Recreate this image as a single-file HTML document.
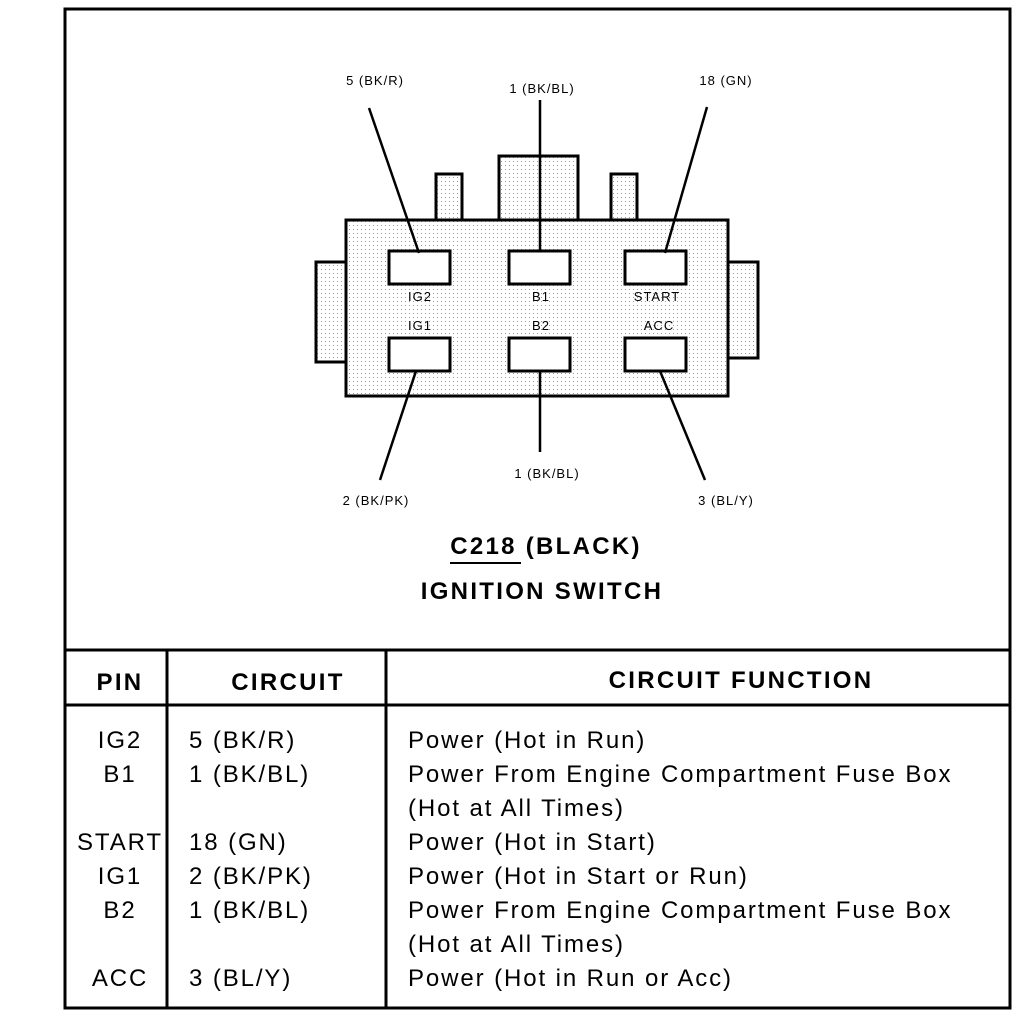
<!DOCTYPE html>
<html><head><style>body{margin:0;background:#fff}svg{display:block}text{font-family:"Liberation Sans",Arial,sans-serif;fill:#000}</style></head>
<body>
<svg width="1024" height="1016" viewBox="0 0 1024 1016">
<defs><pattern id="d" width="4" height="4" patternUnits="userSpaceOnUse"><rect width="4" height="4" fill="#fff"/><rect x="1" y="1" width="1" height="1" fill="#999"/></pattern></defs>
<g stroke="#000" stroke-width="3" fill="none">
<rect x="65" y="9" width="945" height="999"/>
<line x1="65" y1="650" x2="1010" y2="650"/>
<line x1="65" y1="705" x2="1010" y2="705"/>
<line x1="167" y1="650" x2="167" y2="1008"/>
<line x1="386" y1="650" x2="386" y2="1008"/>
</g>
<g stroke="#000" stroke-width="3" fill="url(#d)">
<rect x="316" y="262" width="30" height="100"/>
<rect x="728" y="262" width="30" height="96"/>
<rect x="436" y="174" width="26" height="46"/>
<rect x="499" y="156" width="79" height="64"/>
<rect x="611" y="174" width="26" height="46"/>
<rect x="346" y="220" width="382" height="176"/>
</g>
<g stroke="#000" stroke-width="3" fill="#fff">
<rect x="389" y="251" width="61" height="33"/>
<rect x="509" y="251" width="61" height="33"/>
<rect x="625" y="251" width="61" height="33"/>
<rect x="389" y="338" width="61" height="33"/>
<rect x="509" y="338" width="61" height="33"/>
<rect x="625" y="338" width="61" height="33"/>
</g>
<g stroke="#000" stroke-width="2.5">
<line x1="369" y1="108" x2="419" y2="253"/>
<line x1="540" y1="100" x2="540" y2="251"/>
<line x1="707" y1="107" x2="665" y2="253"/>
<line x1="416" y1="371" x2="380" y2="480"/>
<line x1="540" y1="371" x2="540" y2="452"/>
<line x1="660" y1="371" x2="705" y2="480"/>
</g>
<g font-size="13" text-anchor="middle" letter-spacing="1">
<text x="375" y="85">5 (BK/R)</text>
<text x="542" y="93">1 (BK/BL)</text>
<text x="726" y="85">18 (GN)</text>
<text x="376" y="505">2 (BK/PK)</text>
<text x="547" y="478">1 (BK/BL)</text>
<text x="726" y="505">3 (BL/Y)</text>
<text x="420" y="301">IG2</text>
<text x="541" y="301">B1</text>
<text x="657" y="301">START</text>
<text x="420" y="330">IG1</text>
<text x="541" y="330">B2</text>
<text x="659" y="330">ACC</text>
</g>
<g font-size="24" font-weight="bold" text-anchor="middle" letter-spacing="2.3">
<text x="546" y="554">C218 (BLACK)</text>
<text x="542" y="599">IGNITION SWITCH</text>
<text x="120" y="690">PIN</text>
<text x="288" y="690">CIRCUIT</text>
<text x="741" y="688">CIRCUIT FUNCTION</text>
</g>
<line x1="450" y1="563" x2="521" y2="563" stroke="#000" stroke-width="2"/>
<g font-size="24" letter-spacing="1.9">
<g text-anchor="middle">
<text x="120" y="748">IG2</text>
<text x="120" y="782">B1</text>
<text x="120" y="850">START</text>
<text x="120" y="884">IG1</text>
<text x="120" y="918">B2</text>
<text x="120" y="986">ACC</text>
</g>
<text x="189" y="748">5 (BK/R)</text>
<text x="189" y="782">1 (BK/BL)</text>
<text x="189" y="850">18 (GN)</text>
<text x="189" y="884">2 (BK/PK)</text>
<text x="189" y="918">1 (BK/BL)</text>
<text x="189" y="986">3 (BL/Y)</text>
<text x="408" y="748">Power (Hot in Run)</text>
<text x="408" y="782">Power From Engine Compartment Fuse Box</text>
<text x="408" y="816">(Hot at All Times)</text>
<text x="408" y="850">Power (Hot in Start)</text>
<text x="408" y="884">Power (Hot in Start or Run)</text>
<text x="408" y="918">Power From Engine Compartment Fuse Box</text>
<text x="408" y="952">(Hot at All Times)</text>
<text x="408" y="986">Power (Hot in Run or Acc)</text>
</g>
</svg>
</body></html>
